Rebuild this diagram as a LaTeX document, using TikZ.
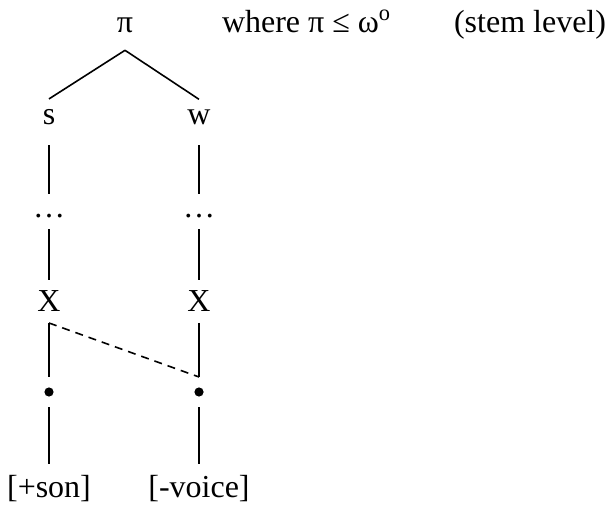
\documentclass[tikz,border=0pt]{standalone}
\usepackage{fontspec}
\setmainfont{Liberation Serif}
\tikzset{
  seg/.style={inner sep=0pt, outer sep=5.5pt, anchor=base, font=\fontsize{16}{19}\selectfont},
  dotnode/.style={circle, fill, inner sep=0pt, minimum size=4.6pt, outer sep=5.2pt},
  longgap/.style={shorten <=4.5pt, shorten >=5pt},
}

\begin{document}
\begin{tikzpicture}[x=0.5pt, y=-0.5pt, line width=0.8pt]
  \useasboundingbox (0,0) rectangle (608,506);
  % top row: the foot and its condition
  \node[seg, outer sep=8.5pt] (pi) at (125,33) {π};
  \node[seg, outer sep=0pt, anchor=base west] (cond) at (222,33) {where π ≤ ω\textsuperscript{o}};
  \node[seg, outer sep=0pt, anchor=base east] (level) at (606,33) {(stem level)};
  % strong branch
  \node[seg] (s) at (49,125) {s};
  \node[seg] (dL) at (49,218) {…};
  \node[seg] (xL) at (49,312) {X};
  \node[dotnode] (bL) at (49,392) {};
  \node[seg] (son) at (49,497) {[+son]};
  % weak branch
  \node[seg] (w) at (199,125) {w};
  \node[seg] (dR) at (199,218) {…};
  \node[seg] (xR) at (199,312) {X};
  \node[dotnode] (bR) at (199,392) {};
  \node[seg] (voice) at (199,497) {[-voice]};
  % association lines
  \draw (pi.south) -- (s.north);
  \draw (pi.south) -- (w.north);
  \draw[longgap] (s) -- (dL);
  \draw[longgap] (w) -- (dR);
  \draw (dL) -- (xL) (xL) -- (bL) (bL) -- (son);
  \draw (dR) -- (xR) (xR) -- (bR) (bR) -- (voice);
  % spreading of the feature
  \draw[dash pattern=on 4pt off 3pt] (xL.south) -- (bR.north);
\end{tikzpicture}
\end{document}
